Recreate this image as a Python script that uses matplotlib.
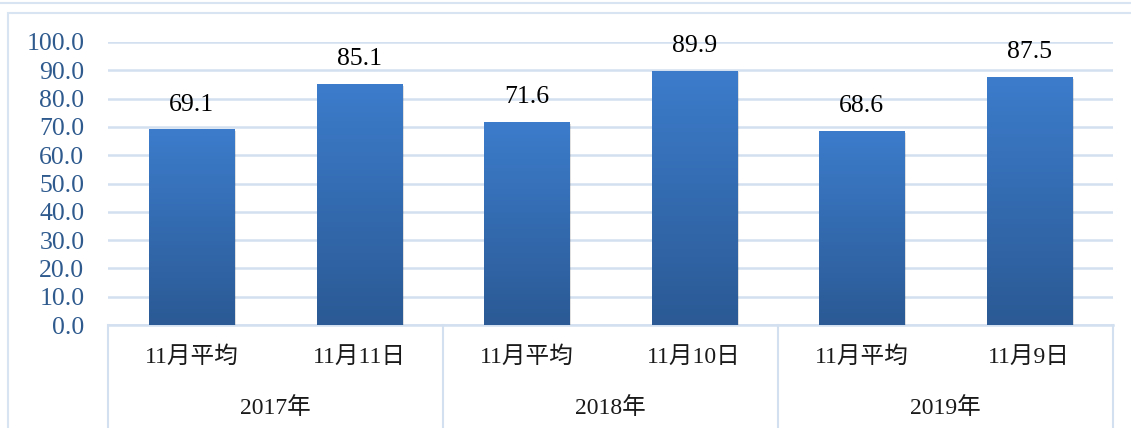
"""Bar chart: November averages vs. peak day, 2017-2019."""

import matplotlib
matplotlib.use('Agg')
import matplotlib.pyplot as plt
import numpy as np
from matplotlib.colors import LinearSegmentedColormap
from matplotlib.lines import Line2D
from matplotlib.patches import Rectangle

plt.rcParams['font.family'] = ['Liberation Serif', 'Noto Sans CJK JP', 'DejaVu Sans']

years = ['2017年', '2018年', '2019年']
categories = ['11月平均', '11月11日', '11月平均', '11月10日', '11月平均', '11月9日']
values = [69.1, 85.1, 71.6, 89.9, 68.6, 87.5]
yticks = [0, 10, 20, 30, 40, 50, 60, 70, 80, 90, 100]

TICK = '#2E5A8E'
GRID = '#D3E0F0'
FRAME = '#D9E4F2'
grad = LinearSegmentedColormap.from_list('bar', ['#2B5A95', '#3C7CCB'])

fig = plt.figure(figsize=(11.31, 4.28), dpi=100)
fig.patch.set_facecolor('white')

# outer frame lines
fig.add_artist(Line2D([0, 1], [1 - 3 / 428, 1 - 3 / 428], color=FRAME, lw=1.5, transform=fig.transFigure))
fig.add_artist(Rectangle((8 / 1131, -0.05), 1.1, 1 - 13 / 428 + 0.05, transform=fig.transFigure,
                         fill=False, edgecolor=FRAME, lw=1.5))

ax = fig.add_axes([108 / 1131, 1 - 325 / 428, 1005 / 1131, 283 / 428])
x = np.arange(len(values))
bars = ax.bar(x, values, width=0.51, color='#3470B8', zorder=3)

# gradient fill + soft shadow
for b in bars:
    x0, w, h = b.get_x(), b.get_width(), b.get_height()
    ax.add_patch(Rectangle((x0 + 0.012, -0.6), w, h, facecolor='#000000', alpha=0.12,
                           edgecolor='none', zorder=2))
    img = ax.imshow(np.linspace(0, 1, 100).reshape(-1, 1), cmap=grad, aspect='auto',
                    extent=(x0, x0 + w, 0, h), origin='lower', zorder=3.5)
    img.set_clip_path(b)
    ax.annotate(f'{h:.1f}', (x0 + w / 2, h), xytext=(0, 10), textcoords='offset points',
                ha='center', va='bottom', fontsize=18.5, color='black')

ax.set_xlim(-0.5, len(values) - 0.5)
ax.set_ylim(0, 100)
ax.set_yticks(yticks)
ax.set_yticklabels([f'{v:.1f}' for v in yticks], fontsize=18.5, color=TICK)
ax.tick_params(axis='y', length=0, pad=17)
ax.set_xticks([])
ax.grid(axis='y', color=GRID, lw=1.8, zorder=0)
ax.set_axisbelow(True)
for s in ax.spines.values():
    s.set_visible(False)

# category table below the axis
tr = ax.get_xaxis_transform()
ax.plot([-0.5, len(values) - 0.5], [0, 0], color=GRID, lw=1.8, transform=tr, clip_on=False, zorder=1)
for k in range(len(years) + 1):
    xs = -0.5 + 2 * k
    ax.plot([xs, xs], [0, -0.5], color=GRID, lw=1.5, transform=tr, clip_on=False)
for i, c in enumerate(categories):
    ax.text(i, -0.113, c, transform=tr, ha='center', va='center', fontsize=17, color='#1a1a1a')
for k, yr in enumerate(years):
    ax.text(2 * k + 0.5, -0.293, yr, transform=tr, ha='center', va='center', fontsize=17, color='#1a1a1a')

fig.savefig('out.png', dpi=100, facecolor='white')
